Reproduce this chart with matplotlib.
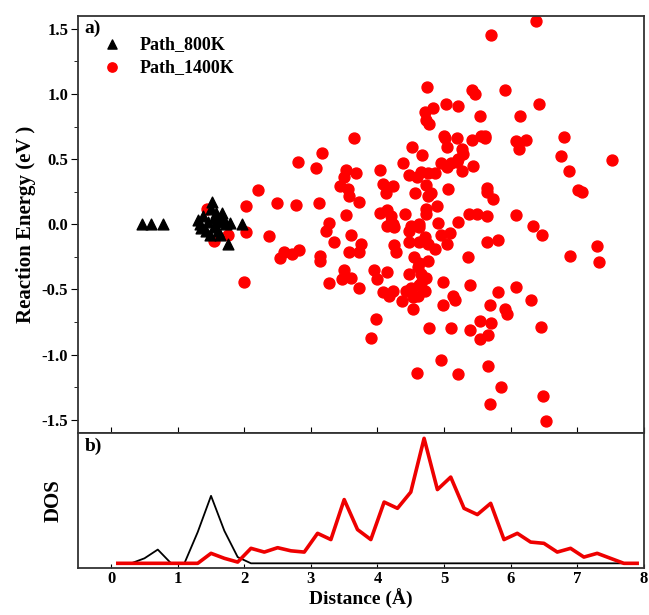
import matplotlib
matplotlib.use("Agg")
import matplotlib.pyplot as plt
import numpy as np

plt.rcParams['font.family'] = ['Liberation Serif', 'DejaVu Serif']
plt.rcParams['font.weight'] = 'bold'
plt.rcParams['axes.unicode_minus'] = False

# a) reaction energy vs distance
path800_x = [0.47, 0.60, 0.78, 1.30, 1.33, 1.35, 1.38, 1.42, 1.45, 1.48, 1.50, 1.52,
             1.55, 1.55, 1.58, 1.60, 1.62, 1.63, 1.66, 1.68, 1.72, 1.75, 1.78, 1.96]
path800_y = [0.00, 0.00, 0.00, 0.03, 0.00, -0.03, 0.06, -0.05, 0.02, -0.08, 0.12, 0.17,
             0.05, -0.02, 0.09, -0.05, 0.02, -0.08, 0.09, 0.04, 0.00, -0.15, 0.01, 0.00]

path1400_x = [1.44, 1.55, 1.75, 2.03, 2.03, 1.99, 2.20, 2.37, 2.49, 2.53, 2.60, 2.72,
              2.82, 2.77, 2.81, 3.07, 3.17, 3.12, 3.13, 3.14, 3.22, 3.27, 3.27, 3.35,
              3.60, 3.75, 3.72, 3.57, 3.49, 3.47, 3.60, 3.72, 3.65, 3.52, 3.49, 3.68,
              3.43, 3.55, 3.57, 3.72, 3.52, 4.75, 5.42, 5.47, 5.03, 5.21, 4.72, 4.84,
              4.73, 4.77, 5.54, 5.00, 5.01, 5.20, 5.42, 5.56, 5.05, 4.52, 4.67, 5.27,
              5.29, 5.21, 5.19, 5.11, 5.04, 5.43, 4.38, 4.04, 4.47, 4.60, 4.66, 4.76,
              4.86, 4.96, 5.27, 4.08, 4.13, 4.23, 4.73, 5.06, 4.57, 4.76, 4.81, 4.04,
              4.15, 4.20, 4.23, 4.41, 4.73, 4.89, 4.73, 5.21, 5.37, 5.49, 4.91, 4.50,
              4.63, 6.38, 5.71, 5.92, 6.43, 6.14, 5.62, 5.62, 6.08, 6.23, 6.13, 6.80,
              6.75, 7.52, 6.87, 7.01, 7.07, 5.64, 5.65, 5.73, 5.64, 6.08, 6.33, 4.15,
              4.25, 4.20, 4.25, 4.28, 4.48, 4.63, 4.48, 4.63, 4.71, 4.76, 4.86, 4.96,
              5.09, 5.05, 5.36, 4.55, 4.63, 4.76, 4.66, 4.73, 3.95, 4.00, 4.15, 4.08,
              4.18, 4.24, 4.37, 4.43, 4.51, 4.53, 4.61, 4.63, 4.53, 4.99, 4.99, 5.14,
              5.16, 5.39, 3.98, 3.90, 4.78, 5.10, 5.39, 5.54, 5.54, 4.96, 4.59, 5.21,
              6.47, 5.64, 5.81, 6.89, 7.29, 7.32, 6.08, 5.81, 6.30, 5.69, 5.92, 5.94,
              5.71, 5.66, 6.46, 5.66, 5.86, 6.49, 5.69, 6.53, 4.48, 4.66, 4.71, 4.61]
path1400_y = [0.12, -0.13, -0.08, 0.14, -0.06, -0.44, 0.26, -0.09, 0.16, -0.26, -0.21, -0.23,
              -0.20, 0.15, 0.48, 0.43, 0.55, 0.16, -0.24, -0.28, -0.05, 0.01, -0.45, -0.14,
              -0.08, -0.15, -0.21, -0.21, -0.35, -0.42, -0.41, -0.49, 0.66, 0.42, 0.36, 0.39,
              0.29, 0.27, 0.22, 0.17, 0.07, 1.05, 1.03, 1.00, 0.92, 0.91, 0.86, 0.89,
              0.80, 0.77, 0.83, 0.68, 0.66, 0.66, 0.65, 0.68, 0.59, 0.59, 0.53, 0.58,
              0.54, 0.50, 0.48, 0.47, 0.44, 0.45, 0.47, 0.42, 0.38, 0.36, 0.40, 0.39,
              0.39, 0.47, 0.41, 0.31, 0.24, 0.29, 0.30, 0.27, 0.24, 0.22, 0.24, 0.09,
              0.11, 0.06, 0.00, 0.08, 0.12, 0.14, 0.08, 0.02, 0.08, 0.08, 0.01, -0.01,
              0.00, 1.56, 1.45, 1.03, 0.92, 0.83, 0.68, 0.66, 0.64, 0.65, 0.58, 0.67,
              0.52, 0.49, 0.41, 0.26, 0.25, 0.28, 0.25, 0.19, 0.06, 0.07, -0.01, -0.01,
              -0.02, 0.02, -0.16, -0.21, -0.05, -0.02, -0.14, -0.14, -0.10, -0.15, -0.19, -0.08,
              -0.07, -0.15, -0.25, -0.25, -0.30, -0.28, -0.38, -0.41, -0.35, -0.42, -0.37, -0.52,
              -0.55, -0.51, -0.59, -0.51, -0.49, -0.56, -0.55, -0.47, -0.65, -0.44, -0.62, -0.55,
              -0.58, -0.47, -0.73, -0.87, -0.80, -0.80, -0.81, -0.74, -0.88, -1.04, -1.14, -1.15,
              -0.08, -0.14, -0.12, -0.24, -0.17, -0.29, -0.48, -0.52, -0.58, -0.62, -0.65, -0.69,
              -0.76, -0.85, -0.79, -1.09, -1.25, -1.32, -1.38, -1.51, -0.38, -0.45, -0.51, -0.33]

# b) DOS curves
dos_x = [0.1, 0.3, 0.5, 0.7, 0.9, 1.1, 1.3, 1.5, 1.7, 1.9, 2.1, 2.3, 2.5, 2.7, 2.9, 3.1,
         3.3, 3.5, 3.7, 3.9, 4.1, 4.3, 4.5, 4.7, 4.9, 5.1, 5.3, 5.5, 5.7, 5.9, 6.1, 6.3,
         6.5, 6.7, 6.9, 7.1, 7.3, 7.5, 7.7, 7.9]
dos_800 = [None, 0.0, 0.04, 0.11, 0.0, 0.0, 0.25, 0.54, 0.26, 0.05, 0.0, 0.0, 0.0, 0.0, 0.0, 0.0,
           0.0, 0.0, 0.0, 0.0, 0.0, 0.0, 0.0, 0.0, 0.0, 0.0, 0.0, 0.0, 0.0, 0.0, 0.0, 0.0,
           0.0, 0.0, 0.0, 0.0, 0.0, 0.0, 0.0, 0.0]
dos_1400 = [0.0, 0.0, 0.0, 0.0, 0.0, 0.0, 0.0, 0.08, 0.04, 0.01, 0.12, 0.09, 0.125, 0.10, 0.09, 0.24,
            0.19, 0.51, 0.27, 0.19, 0.49, 0.44, 0.57, 1.0, 0.59, 0.69, 0.44, 0.39, 0.48, 0.19, 0.24, 0.17,
            0.16, 0.09, 0.12, 0.05, 0.08, 0.04, 0.0, 0.0]

fig = plt.figure(figsize=(6.49, 6.15), dpi=100)
ax1 = fig.add_axes([0.120, 0.2964, 0.872, 0.678])
ax2 = fig.add_axes([0.120, 0.0759, 0.872, 0.2205])

ax1.scatter(path800_x, path800_y, marker='^', s=60, color='black', label='Path_800K', zorder=3)
ax1.scatter(path1400_x, path1400_y, marker='o', s=62, color='#ff0000', label='Path_1400K', zorder=2)
ax1.set_xlim(-0.5, 8)
ax1.set_ylim(-1.6, 1.6)
ax1.set_yticks([-1.5, -1.0, -0.5, 0.0, 0.5, 1.0, 1.5])
ax1.set_yticks(np.arange(-1.5, 1.6, 0.25), minor=True)
ax1.set_xticks(range(0, 9))
ax1.tick_params(axis='x', direction='in', length=4, labelbottom=False)
ax1.tick_params(axis='y', which='major', direction='out', length=5, labelsize=12, pad=2)
ax1.tick_params(axis='y', which='minor', direction='out', length=3)
ax1.set_ylabel('Reaction Energy (eV )', fontsize=15, fontweight='bold', labelpad=4)
ax1.text(0.012, 0.99, 'a)', transform=ax1.transAxes, fontsize=14, fontweight='bold', va='top')
ax1.legend(loc='upper left', bbox_to_anchor=(0.0, 0.99), frameon=False, fontsize=13,
           handletextpad=0.5, labelspacing=0.3, markerscale=0.85)

dx = [x for x, v in zip(dos_x, dos_800) if v is not None]
dv = [v for v in dos_800 if v is not None]
ax2.plot(dx, dv, color='black', lw=1.3)
ax2.plot(dos_x, dos_1400, color='#ee0000', lw=2.6, solid_joinstyle='round')
ax2.set_xlim(-0.5, 8)
ax2.set_ylim(-0.04, 1.045)
ax2.set_xticks(range(0, 9))
ax2.set_yticks([])
ax2.tick_params(axis='x', direction='in', length=3, labelsize=12, pad=2)
ax2.set_xlabel('Distance (\u00c5)', fontsize=14, fontweight='bold', labelpad=1)
ax2.set_ylabel('DOS', fontsize=15, fontweight='bold', labelpad=10)
ax2.text(0.012, 0.96, 'b)', transform=ax2.transAxes, fontsize=14, fontweight='bold', va='top')

for ax in (ax1, ax2):
    for sp in ax.spines.values():
        sp.set_linewidth(1.3)
        sp.set_color('#333333')
    for lab in ax.get_xticklabels() + ax.get_yticklabels():
        lab.set_fontweight('bold')

fig.savefig('out.png', dpi=100)
